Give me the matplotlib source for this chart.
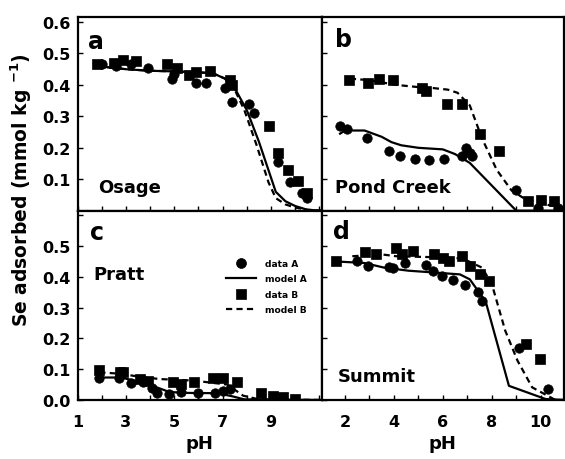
import matplotlib
matplotlib.use('Agg')
import matplotlib.pyplot as plt
import numpy as np

# panel a - Osage
a_dataA_ph = [2.0, 2.6, 3.2, 3.9, 4.9, 5.0, 5.9, 6.3, 7.1, 7.4, 8.1, 8.3, 9.3, 9.8, 10.3, 10.5]
a_dataA_se = [0.465, 0.46, 0.465, 0.455, 0.42, 0.435, 0.405, 0.405, 0.39, 0.345, 0.34, 0.31, 0.155, 0.09, 0.055, 0.04]
a_dataB_ph = [1.8, 2.5, 2.9, 3.4, 4.7, 5.1, 5.6, 5.9, 6.5, 7.3, 7.4, 8.9, 9.3, 9.7, 10.1, 10.5]
a_dataB_se = [0.468, 0.47, 0.478, 0.475, 0.465, 0.455, 0.43, 0.44, 0.445, 0.415, 0.4, 0.27, 0.185, 0.13, 0.095, 0.055]
a_modelA_ph = [1.8, 3.0, 4.0, 5.0, 6.0, 6.6, 7.1, 7.5, 8.0, 8.5, 9.2, 9.6, 10.0, 10.5, 11.1]
a_modelA_se = [0.46, 0.45, 0.445, 0.443, 0.44, 0.437, 0.42, 0.39, 0.32, 0.22, 0.06, 0.03, 0.015, 0.003, 0.0]
a_modelB_ph = [1.8, 3.0, 4.0, 5.0, 6.0, 6.6, 7.1, 7.5, 7.9, 8.4, 8.9, 9.2, 9.6, 10.0, 10.5, 11.1]
a_modelB_se = [0.46, 0.45, 0.445, 0.443, 0.44, 0.437, 0.42, 0.385, 0.32, 0.21, 0.09, 0.04, 0.02, 0.01, 0.003, 0.0]

# panel b - Pond Creek
b_dataA_ph = [1.8, 2.1, 2.9, 3.8, 4.25, 4.85, 5.45, 6.05, 6.8, 6.95, 7.1, 7.2, 9.0, 9.9, 10.7]
b_dataA_se = [0.27, 0.26, 0.23, 0.19, 0.175, 0.165, 0.16, 0.165, 0.175, 0.2, 0.185, 0.175, 0.065, 0.008, 0.008]
b_dataB_ph = [2.15, 2.95, 3.4, 3.95, 5.15, 5.3, 6.15, 6.8, 7.5, 8.3, 9.5, 10.0, 10.55]
b_dataB_se = [0.415, 0.405, 0.42, 0.415, 0.39, 0.38, 0.34, 0.34, 0.245, 0.19, 0.03, 0.035, 0.03]
b_modelA_ph = [1.8, 2.0, 2.8, 3.5, 3.9, 4.3, 5.0, 6.0, 6.5, 7.1, 9.0, 11.0]
b_modelA_se = [0.245, 0.255, 0.255, 0.235, 0.218, 0.208, 0.2, 0.195, 0.18, 0.152, 0.0, 0.0]
b_modelB_ph = [2.2, 3.0, 4.1, 5.0, 5.6, 6.2, 6.6, 7.1, 7.6, 8.2, 8.8, 9.4, 9.9, 10.5, 11.0]
b_modelB_se = [0.42, 0.415, 0.4, 0.393, 0.39, 0.385, 0.375, 0.335, 0.23, 0.13, 0.065, 0.035, 0.025, 0.015, 0.01]

# panel c - Pratt
c_dataA_ph = [1.9, 2.7, 3.2, 3.7, 4.1, 4.3, 4.8, 5.3, 6.0, 6.7, 7.0, 7.3]
c_dataA_se = [0.073, 0.073, 0.054, 0.058, 0.04, 0.022, 0.02, 0.025, 0.022, 0.022, 0.03, 0.035]
c_dataB_ph = [1.9, 2.75, 2.9, 3.6, 3.9, 4.95, 5.3, 5.8, 6.6, 7.0, 7.6, 8.6, 9.1, 9.5, 10.0]
c_dataB_se = [0.097, 0.09, 0.09, 0.068, 0.063, 0.057, 0.052, 0.057, 0.073, 0.073, 0.057, 0.022, 0.014, 0.011, 0.003]
c_modelA_ph = [1.9, 2.8, 3.5, 4.1, 4.8, 5.5, 6.8, 7.4, 7.9, 11.1]
c_modelA_se = [0.073, 0.073, 0.06, 0.046, 0.026, 0.023, 0.022, 0.012, 0.002, 0.0]
c_modelB_ph = [1.9, 2.8, 3.6, 4.4, 5.8, 7.2, 7.85, 8.5, 11.1]
c_modelB_se = [0.09, 0.085, 0.075, 0.068, 0.063, 0.05, 0.014, 0.002, 0.0]

# panel d - Summit
d_dataA_ph = [2.5, 2.95, 3.8, 3.95, 4.45, 5.3, 5.6, 5.95, 6.4, 6.9, 7.45, 7.6, 9.1, 10.3]
d_dataA_se = [0.45, 0.435, 0.432, 0.428, 0.445, 0.44, 0.42, 0.403, 0.39, 0.375, 0.352, 0.32, 0.168, 0.037]
d_dataB_ph = [1.65, 2.8, 3.25, 4.1, 4.35, 4.8, 5.65, 6.0, 6.25, 6.8, 7.1, 7.5, 7.9, 9.4, 9.95]
d_dataB_se = [0.45, 0.48, 0.475, 0.495, 0.473, 0.485, 0.473, 0.462, 0.45, 0.467, 0.435, 0.408, 0.385, 0.182, 0.133]
d_modelA_ph = [1.65, 2.8, 3.6, 4.6, 5.5, 6.7, 7.1, 7.75, 8.7, 10.2, 11.0]
d_modelA_se = [0.45, 0.445, 0.43, 0.42, 0.415, 0.408, 0.392, 0.32, 0.046, 0.003, 0.0]
d_modelB_ph = [2.3, 3.5, 4.1, 5.6, 6.8, 7.6, 8.0, 8.55, 9.05, 9.65, 10.6, 11.0]
d_modelB_se = [0.467, 0.473, 0.467, 0.464, 0.46, 0.43, 0.377, 0.225, 0.128, 0.041, 0.0, 0.0]

panel_letters = ['a', 'b', 'c', 'd']
site_names = ['Osage', 'Pond Creek', 'Pratt', 'Summit']

plt.rcParams['font.family'] = 'DejaVu Sans'
plt.rcParams['font.weight'] = 'bold'

fig = plt.figure(figsize=(5.65, 4.6), dpi=100)
ax_a = fig.add_axes([0.1372, 0.5398, 0.4322, 0.4204])
ax_b = fig.add_axes([0.5694, 0.5398, 0.4288, 0.4204])
ax_c = fig.add_axes([0.1372, 0.1283, 0.4322, 0.4115])
ax_d = fig.add_axes([0.5694, 0.1283, 0.4288, 0.4115])

panels = [
    (ax_a, a_dataA_ph, a_dataA_se, a_dataB_ph, a_dataB_se, a_modelA_ph, a_modelA_se, a_modelB_ph, a_modelB_se),
    (ax_b, b_dataA_ph, b_dataA_se, b_dataB_ph, b_dataB_se, b_modelA_ph, b_modelA_se, b_modelB_ph, b_modelB_se),
    (ax_c, c_dataA_ph, c_dataA_se, c_dataB_ph, c_dataB_se, c_modelA_ph, c_modelA_se, c_modelB_ph, c_modelB_se),
    (ax_d, d_dataA_ph, d_dataA_se, d_dataB_ph, d_dataB_se, d_modelA_ph, d_modelA_se, d_modelB_ph, d_modelB_se),
]

for ax, dax, day, dbx, dby, max_, may, mbx, mby in panels:
    ax.plot(max_, may, color='black', lw=1.6, label='model A')
    ax.plot(mbx, mby, color='black', lw=1.6, dashes=(2.8, 1.9), label='model B')
    ax.plot(dax, day, 'o', color='black', ms=6.8, mew=0.5, label='data A')
    ax.plot(dbx, dby, 's', color='black', ms=6.8, mew=0.5, label='data B')
    ax.set_ylim(0, 0.615)
    ax.set_yticks(np.round(np.arange(0, 0.61, 0.1), 1))
    for s in ax.spines.values():
        s.set_linewidth(1.6)
    ax.tick_params(direction='in', length=3.5, width=1, labelsize=11.5)
    ax.tick_params(which='minor', direction='in', length=3.5, width=1)

for ax in (ax_a, ax_c):
    ax.set_xlim(1, 11.1)
    ax.set_xticks([1, 3, 5, 7, 9])
    ax.set_xticks(range(1, 12), minor=True)
for ax in (ax_b, ax_d):
    ax.set_xlim(1.05, 10.95)
    ax.set_xticks([2, 4, 6, 8, 10])
    ax.set_xticks(range(2, 11), minor=True)

ax_a.set_yticks([0.1, 0.2, 0.3, 0.4, 0.5, 0.6])
ax_a.set_yticklabels(['0.1', '0.2', '0.3', '0.4', '0.5', '0.6'])
ax_c.set_yticks([0.0, 0.1, 0.2, 0.3, 0.4, 0.5, 0.6])
ax_c.set_yticklabels(['0.0', '0.1', '0.2', '0.3', '0.4', '0.5', ''])
ax_a.tick_params(axis='y', pad=5)
ax_c.tick_params(axis='y', pad=5)
ax_a.tick_params(axis='x', labelbottom=False)
ax_b.tick_params(labelbottom=False, labelleft=False)
ax_d.tick_params(axis='y', labelleft=False)
ax_c.tick_params(axis='x', pad=10)
ax_d.tick_params(axis='x', pad=10)

ax_c.set_xlabel('pH', fontsize=13, fontweight='bold', labelpad=4)
ax_d.set_xlabel('pH', fontsize=13, fontweight='bold', labelpad=4)

letter_pos = [(0.043, 0.877), (0.055, 0.888), (0.051, 0.887), (0.047, 0.893)]
name_pos = [(0.084, 0.123), (0.055, 0.123), (0.063, 0.666), (0.067, 0.127)]
for ax, let, lp, name, npos in zip((ax_a, ax_b, ax_c, ax_d), panel_letters, letter_pos, site_names, name_pos):
    ax.text(lp[0], lp[1], let, transform=ax.transAxes, fontsize=17, fontweight='bold',
            ha='left', va='center')
    ax.text(npos[0], npos[1], name, transform=ax.transAxes, fontsize=13, fontweight='bold',
            ha='left', va='center')

handles, labels = ax_c.get_legend_handles_labels()
order = [2, 0, 3, 1]
ax_c.legend([handles[i] for i in order], [labels[i] for i in order],
            loc='upper left', bbox_to_anchor=(0.61, 0.745), frameon=False,
            prop={'size': 6.6, 'weight': 'bold'}, borderpad=0, borderaxespad=0,
            labelspacing=0.7, handlelength=3.2, handletextpad=1.0, markerscale=1.05)

fig.text(0.038, 0.587, 'Se adsorbed (mmol kg $\\mathbf{^{-1}}$)', rotation=90, fontsize=13.5,
         fontweight='bold', ha='center', va='center')

fig.savefig('out.png', dpi=100)
